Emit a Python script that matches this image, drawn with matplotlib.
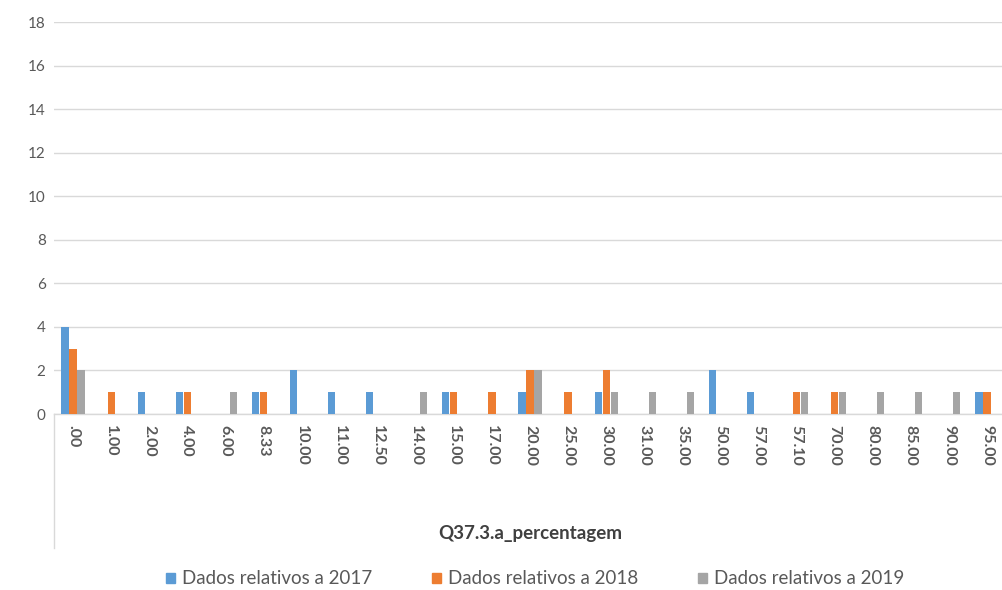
import matplotlib.pyplot as plt
import numpy as np
from matplotlib.lines import Line2D

plt.rcParams['font.family'] = ['Lato', 'DejaVu Sans']

categories = ['.00', '1.00', '2.00', '4.00', '6.00', '8.33', '10.00', '11.00', '12.50',
              '14.00', '15.00', '17.00', '20.00', '25.00', '30.00', '31.00', '35.00',
              '50.00', '57.00', '57.10', '70.00', '80.00', '85.00', '90.00', '95.00']
v2017 = [4, 0, 1, 1, 0, 1, 2, 1, 1, 0, 1, 0, 1, 0, 1, 0, 0, 2, 1, 0, 0, 0, 0, 0, 1]
v2018 = [3, 1, 0, 1, 0, 1, 0, 0, 0, 0, 1, 1, 2, 1, 2, 0, 0, 0, 0, 1, 1, 0, 0, 0, 1]
v2019 = [2, 0, 0, 0, 1, 0, 0, 0, 0, 1, 0, 0, 2, 0, 1, 1, 1, 0, 0, 1, 1, 1, 1, 1, 0]
series_names = ['Dados relativos a 2017', 'Dados relativos a 2018', 'Dados relativos a 2019']
colors = ['#5b9bd5', '#ed7d31', '#a5a5a5']

fig = plt.figure(figsize=(10.03, 5.90), dpi=100)
# plot area in pixels: left 54, right 1006, top 22, bottom 414
ax = fig.add_axes([54 / 1003, 1 - 414 / 590, 952 / 1003, 392 / 590])

x = np.arange(len(categories))
w = 0.19
step = 0.21
for i, (vals, c, name) in enumerate(zip([v2017, v2018, v2019], colors, series_names)):
    ax.bar(x + (i - 1) * step, vals, w, color=c, label=name, zorder=3)

ax.set_xlim(-0.5, len(categories) - 0.5)
ax.set_ylim(0, 18)
ax.set_yticks(range(0, 19, 2))
ax.grid(axis='y', color='#d9d9d9', linewidth=1, zorder=0)
for s in ax.spines.values():
    s.set_visible(False)
ax.tick_params(axis='y', length=0, labelsize=11, labelcolor='#595959', pad=6)
ax.set_xticks(x)
ax.set_xticklabels(categories, rotation=270, fontsize=11.5, color='#595959', fontweight='bold')
ax.tick_params(axis='x', length=0, pad=8)

# category axis box (Excel multi-level style)
ax.add_line(Line2D([0, 1], [0, 0], transform=ax.transAxes, color='#d9d9d9', lw=1, clip_on=False))
ax.add_line(Line2D([0, 0], [0, -134 / 392], transform=ax.transAxes, color='#d9d9d9', lw=1, clip_on=False))

fig.text(530 / 1003, 1 - 533 / 590, 'Q37.3.a_percentagem', ha='center', va='center',
         fontsize=13.5, color='#404040', fontweight='bold')

handles = [plt.Rectangle((0, 0), 1, 1, color=c) for c in colors]
fig.legend(handles, series_names, loc='center', bbox_to_anchor=(535 / 1003, 1 - 579 / 590),
           ncol=3, frameon=False, fontsize=13.5, labelcolor='#595959',
           handlelength=0.5, handleheight=0.5, handletextpad=0.35, columnspacing=3.2)

fig.savefig('out.png', dpi=100)
